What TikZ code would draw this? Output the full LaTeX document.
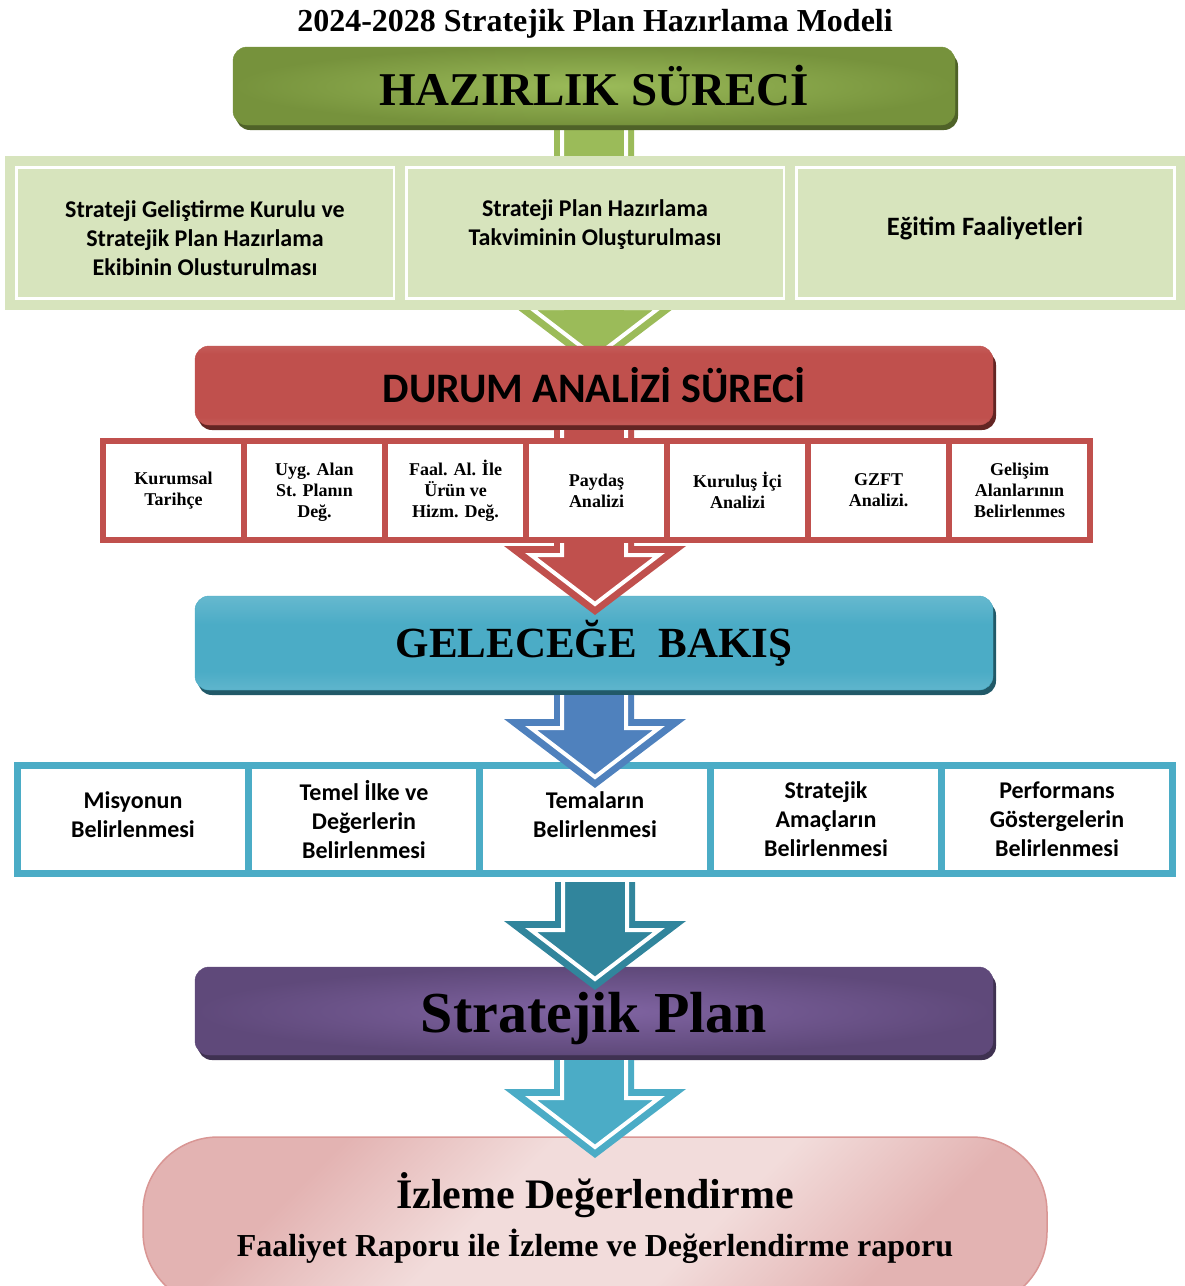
\documentclass[tikz,border=0pt]{standalone}
\usepackage{fontspec}
\setmainfont{Liberation Serif}
\newfontfamily\calibri{Carlito}
\usetikzlibrary{calc,shadows}
\pgfdeclarelayer{under}
\pgfsetlayers{under,main}
\definecolor{greendark}{HTML}{76923C}
\definecolor{greenlight}{HTML}{9BBB59}
\definecolor{greenshadow}{HTML}{4F6228}
\definecolor{panelgreen}{HTML}{D7E4BD}
\definecolor{redmain}{HTML}{C0504D}
\definecolor{redlight}{HTML}{DA9694}
\definecolor{redshadow}{HTML}{632523}
\definecolor{bluemain}{HTML}{4BACC6}
\definecolor{bluelight}{HTML}{93CDDD}
\definecolor{blueshadow}{HTML}{215968}
\definecolor{arrowblue}{HTML}{4F81BD}
\definecolor{arrowteal}{HTML}{31859C}
\definecolor{purpledark}{HTML}{5F497A}
\definecolor{purplelight}{HTML}{8064A2}
\definecolor{purpleshadow}{HTML}{3F3151}
\definecolor{pinklight}{HTML}{F2DCDB}
\definecolor{pinkmid}{HTML}{E3B3B2}
\definecolor{pinkdark}{HTML}{D99694}
\pgfdeclareverticalshading{redband}{100bp}{color(0bp)=(redlight); color(30bp)=(redmain); color(70bp)=(redmain); color(100bp)=(redlight)}
\pgfdeclareverticalshading{blueband}{100bp}{color(0bp)=(bluelight); color(35bp)=(bluemain); color(60bp)=(bluemain); color(100bp)=(bluelight)}
\pgfdeclareverticalshading{pinkband}{100bp}{color(0bp)=(pinkmid); color(28bp)=(pinkmid); color(42bp)=(pinklight); color(58bp)=(pinklight); color(72bp)=(pinkmid); color(100bp)=(pinkmid)}
% wide arrow with a white inner outline, from a node to a tip
\newcommand{\fatarrow}[3]{%
  \fill[#1] ($(#2)+(-40,5)$) |- ($(#3)+(-91,-69)$) -- (#3) -- ($(#3)+(91,-69)$) -| ($(#2)+(40,5)$) -- cycle;
  \draw[white,line width=4pt] ($(#2)+(-32,5)$) |- ($(#3)+(-64,-60)$) -- ($(#3)+(0,-11)$) -- ($(#3)+(64,-60)$) -| ($(#2)+(32,5)$);
}
\begin{document}
\begin{tikzpicture}[x=1pt,y=-1pt,
  mainbox/.style={rounded corners=14pt, minimum width=798pt, inner sep=0pt},
  panelbox/.style={fill=panelgreen, draw=panelgreen, double=white, double distance=3pt, line width=10pt, minimum width=378pt, minimum height=131pt, inner sep=0pt, align=center, font=\calibri\bfseries\fontsize{24}{29}\selectfont},
  redcell/.style={draw=redmain, line width=6pt, fill=white, minimum width=141pt, minimum height=99pt, inner sep=0pt, align=center, font=\bfseries\fontsize{18}{21}\selectfont},
  bluecell/.style={draw=bluemain, line width=7pt, fill=white, minimum width=231pt, minimum height=108pt, inner sep=0pt, align=center, font=\calibri\bfseries\fontsize{24}{29}\selectfont}]
\useasboundingbox (0,0) rectangle (1185,1286);
\clip (0,0) rectangle (1185,1286);
% title and the preparation step
\node[anchor=base, font=\bfseries\fontsize{32}{36}\selectfont] (title) at (595,31) {2024-2028 Stratejik Plan Hazırlama Modeli};
\node[mainbox, minimum width=722pt, minimum height=78pt, draw=greendark, inner color=greenlight, outer color=greendark,
  drop shadow={shadow xshift=3pt, shadow yshift=-5pt, fill=greenshadow, opacity=1},
  font=\bfseries\fontsize{47}{50}\selectfont] (hazirlik) at (594,86) {HAZIRLIK SÜRECİ};
\node[panelbox, text height=86pt, text depth=0pt] (kurul) at (205,232.5) {Strateji Geliştirme Kurulu ve\\Stratejik Plan Hazırlama\\Ekibinin Olusturulması};
\node[panelbox, text depth=20pt] (takvim) at (595,232.5) {Strateji Plan Hazırlama\\Takviminin Oluşturulması};
\node[panelbox, text depth=13pt, font=\calibri\bfseries\fontsize{26.5}{29}\selectfont] (egitim) at (985,232.5) {Eğitim Faaliyetleri};
% situation analysis
\node[mainbox, minimum height=79pt, draw=redmain, shading=redband,
  drop shadow={shadow xshift=3pt, shadow yshift=-5pt, fill=redshadow, opacity=1},
  font=\calibri\bfseries\fontsize{42}{46}\selectfont] (durum) at (594,385.5) {DURUM ANALİZİ SÜRECİ};
\coordinate (a1tip) at (595,368);
\begin{pgfonlayer}{under}
\fatarrow{greenlight}{hazirlik.south}{a1tip}
\end{pgfonlayer}
\node[mainbox, minimum height=94pt, draw=bluemain, shading=blueband,
  drop shadow={shadow xshift=3pt, shadow yshift=-5pt, fill=blueshadow, opacity=1},
  font=\bfseries\fontsize{43}{48}\selectfont] (gelecek) at (594,643) {GELECEĞE\ \ BAKIŞ};
\coordinate (a2tip) at (595,615);
\fatarrow{redmain}{durum.south}{a2tip}
\node[redcell] (tarihce) at (173.5,490.5) {Kurumsal\\Tarihçe};
\node[redcell, text depth=0pt] (uyg) at (314.5,490.5) {Uyg. Alan\\St. Planın\\Değ.};
\node[redcell] (faal) at (455.5,490.5) {Faal. Al. İle\\Ürün ve\\Hizm. Değ.};
\node[redcell] (paydas) at (596.5,490.5) {Paydaş\\Analizi};
\node[redcell] (kurulus) at (737.5,490.5) {Kuruluş İçi\\Analizi};
\node[redcell] (gzft) at (878.5,490.5) {GZFT\\Analizi.};
\node[redcell] (gelisim) at (1019.5,490.5) {Gelişim\\Alanlarının\\Belirlenmes};
% looking ahead
\node[bluecell, text depth=10pt] (misyon) at (133,819.5) {Misyonun\\Belirlenmesi};
\node[bluecell] (ilke) at (364,819.5) {Temel İlke ve\\Değerlerin\\Belirlenmesi};
\node[bluecell, text depth=10pt] (tema) at (595,819.5) {Temaların\\Belirlenmesi};
\node[bluecell] (amac) at (826,819.5) {Stratejik\\Amaçların\\Belirlenmesi};
\node[bluecell] (gosterge) at (1057,819.5) {Performans\\Göstergelerin\\Belirlenmesi};
\coordinate (a3tip) at (595,788);
\fatarrow{arrowblue}{gelecek.south}{a3tip}
% plan and monitoring
\node[mainbox, minimum height=88pt, draw=purpledark, inner color=purplelight, outer color=purpledark,
  drop shadow={shadow xshift=3pt, shadow yshift=-5pt, fill=purpleshadow, opacity=1},
  text height=42pt, text depth=0pt,
  font=\bfseries\fontsize{58}{62}\selectfont] (plan) at (594,1011) {Stratejik Plan};
\coordinate (a4tip) at (595,990);
\fatarrow{arrowteal}{tema.south}{a4tip}
\node[rounded corners=75pt, minimum width=904pt, minimum height=170pt, inner sep=0pt, draw=pinkdark, line width=1.5pt,
  shading=pinkband, shading angle=45, align=center, text depth=16pt,
  font=\bfseries\fontsize{32}{48}\selectfont] (izleme) at (595,1222) {{\fontsize{42}{48}\selectfont İzleme Değerlendirme}\\Faaliyet Raporu ile İzleme ve Değerlendirme raporu};
\coordinate (a5tip) at (595,1158);
\fatarrow{bluemain}{plan.south}{a5tip}
\end{tikzpicture}
\end{document}
